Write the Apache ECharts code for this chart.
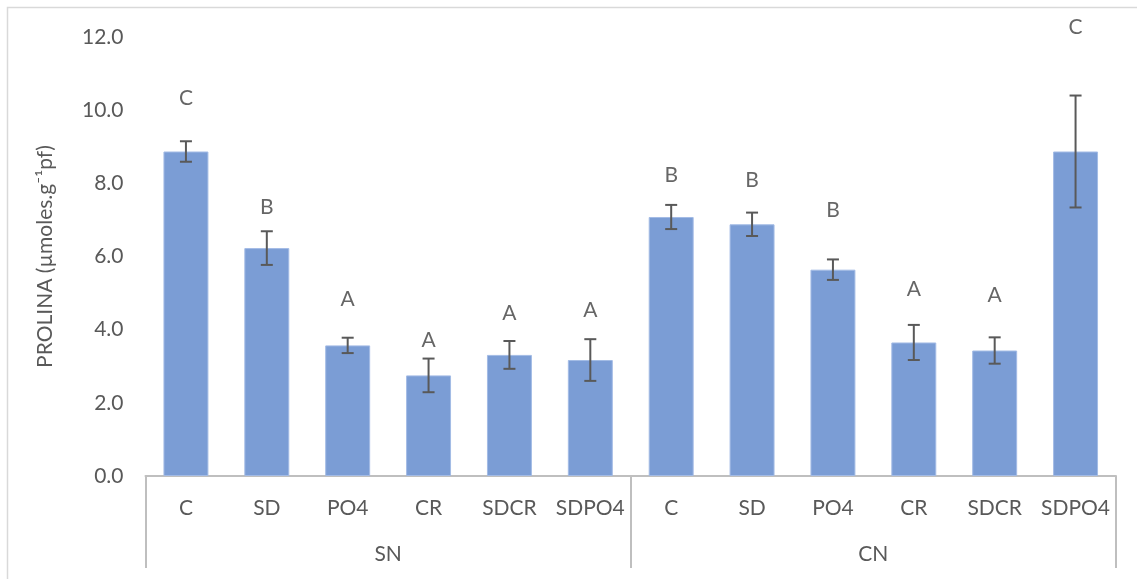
<!DOCTYPE html>
<html>
<head>
<meta charset="utf-8">
<script src="https://cdn.jsdelivr.net/npm/echarts@6/dist/echarts.min.js"></script>
<style>
html,body{margin:0;padding:0;background:#fff;}
#chart{width:1137px;height:579px;}
</style>
</head>
<body>
<div id="chart"></div>
<script>
const categories = ['C','SD','PO4','CR','SDCR','SDPO4','C','SD','PO4','CR','SDCR','SDPO4'];
const groups = ['SN','CN'];
const values = [8.87, 6.23, 3.57, 2.75, 3.31, 3.17, 7.08, 6.88, 5.64, 3.65, 3.43, 8.87];
const errors = [0.28, 0.46, 0.21, 0.46, 0.38, 0.57, 0.33, 0.32, 0.28, 0.48, 0.36, 1.53];
const letters = ['C','B','A','A','A','A','B','B','B','A','A','C'];
const letterY = [10.33, 7.35, 4.84, 3.72, 4.45, 4.52, 8.22, 8.09, 7.27, 5.10, 4.93, 12.26];
const yTicks = { min: 0, max: 12, interval: 2 };

const FONT = 'Lato, "Open Sans", sans-serif';
const chart = echarts.init(document.getElementById('chart'));

const errData = values.map((v, i) => [i, v - errors[i], v + errors[i]]);
const letterData = letters.map((l, i) => [i, letterY[i], l]);

chart.setOption({
  animation: false,
  backgroundColor: '#fff',
  graphic: [{
    type: 'rect',
    shape: { x: 7.5, y: 7.5, width: 1140, height: 590 },
    style: { fill: 'none', stroke: '#d9d9d9', lineWidth: 1.5 },
    silent: true
  }],
  grid: { left: 145.5, right: 21, top: 37, bottom: 103, containLabel: false },
  xAxis: [{
    type: 'category',
    data: categories,
    position: 'bottom',
    axisLine: { show: true, lineStyle: { color: '#bfbfbf', width: 2 } },
    axisTick: { show: false },
    axisLabel: { interval: 0, color: '#595959', fontSize: 21, fontFamily: FONT, margin: 22 },
    splitLine: { show: false }
  }, {
    type: 'category',
    data: groups,
    position: 'bottom',
    axisLine: { show: false },
    axisTick: { show: true, interval: 0, length: 92, lineStyle: { color: '#bfbfbf', width: 2 } },
    axisLabel: { interval: 0, color: '#595959', fontSize: 21, fontFamily: FONT, margin: 68 },
    splitLine: { show: false }
  }],
  yAxis: {
    type: 'value',
    min: yTicks.min, max: yTicks.max, interval: yTicks.interval,
    name: 'PROLINA (µmoles.g⁻¹pf)',
    nameLocation: 'middle',
    nameGap: 90,
    nameRotate: 90,
    nameTextStyle: { color: '#595959', fontSize: 21, fontFamily: FONT },
    axisLine: { show: false },
    axisTick: { show: false },
    splitLine: { show: false },
    axisLabel: { color: '#595959', fontSize: 21, fontFamily: FONT, margin: 22,
      formatter: v => v.toFixed(1) }
  },
  series: [{
    type: 'bar',
    data: values,
    barWidth: '55.6%',
    itemStyle: { color: '#7b9dd5', borderColor: '#a3bbe5', borderWidth: 1 },
    z: 2
  }, {
    type: 'custom',
    data: errData,
    z: 5,
    clip: false,
    renderItem: function (params, api) {
      const x = api.value(0);
      const lo = api.coord([x, api.value(1)]);
      const hi = api.coord([x, api.value(2)]);
      const hw = 6;
      const style = { stroke: '#595959', lineWidth: 2 };
      return {
        type: 'group',
        children: [
          { type: 'line', shape: { x1: hi[0], y1: hi[1], x2: lo[0], y2: lo[1] }, style },
          { type: 'line', shape: { x1: hi[0] - hw, y1: hi[1], x2: hi[0] + hw, y2: hi[1] }, style },
          { type: 'line', shape: { x1: lo[0] - hw, y1: lo[1], x2: lo[0] + hw, y2: lo[1] }, style }
        ]
      };
    }
  }, {
    type: 'scatter',
    data: letterData,
    symbolSize: 1,
    clip: false,
    itemStyle: { color: 'rgba(0,0,0,0)' },
    label: {
      show: true, position: 'inside',
      formatter: p => p.value[2],
      color: '#404040', fontSize: 21, fontFamily: FONT
    },
    z: 6
  }]
});
</script>
</body>
</html>
